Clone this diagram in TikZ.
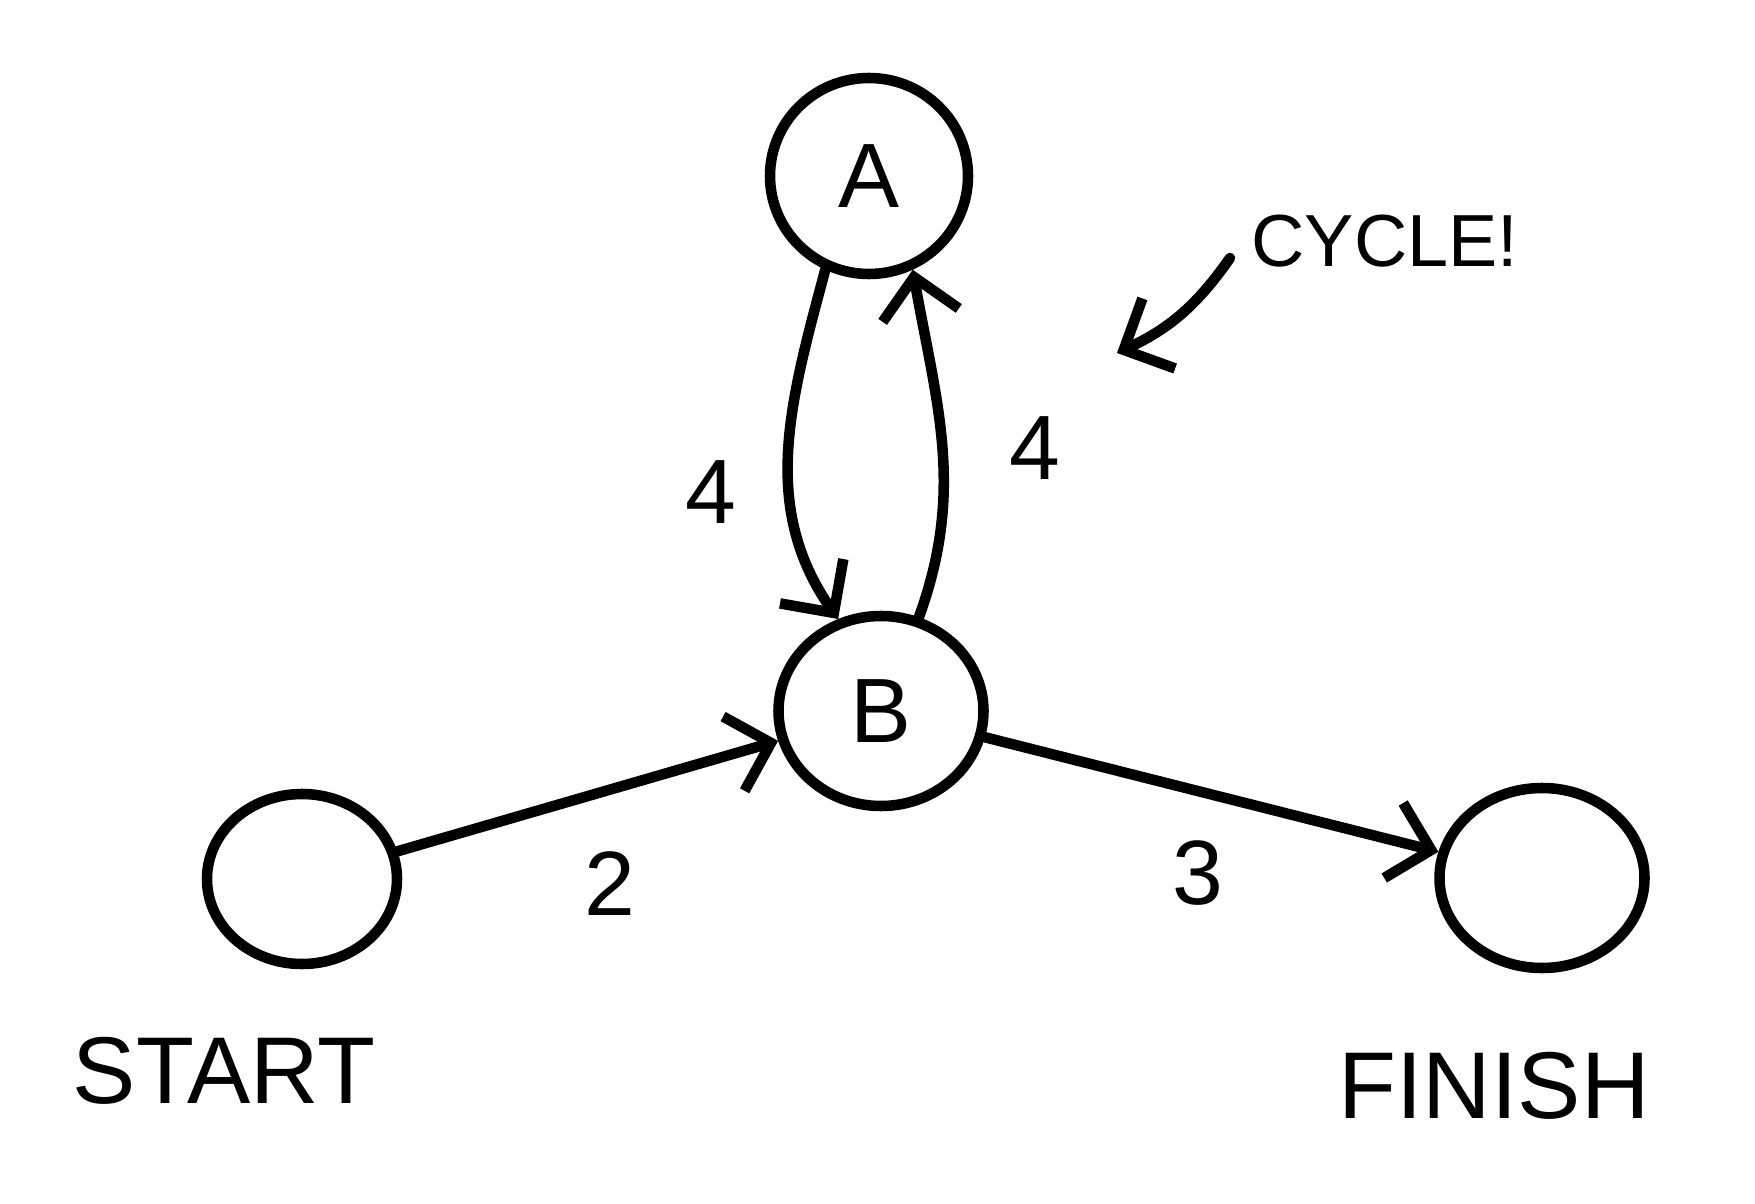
\documentclass[tikz,border=0pt]{standalone}
\usepackage{fontspec}
\setmainfont{Liberation Sans}
\usetikzlibrary{arrows.meta,shapes.geometric}

\begin{document}
\begin{tikzpicture}[line width=3pt, line cap=round,
  >={Straight Barb[length=11pt,width=22pt,line width=3pt]},
  vertex/.style={ellipse, draw, inner sep=0pt, font=\fontsize{26}{30}\selectfont},
  weight/.style={font=\fontsize{26}{30}\selectfont},
  tag/.style={font=\fontsize{27}{32}\selectfont}]
\useasboundingbox (0,0) rectangle (17.55,12.03);
\node[vertex, minimum width=1.98cm, minimum height=1.96cm] (a) at (8.69, 10.27) {A};
\node[vertex, minimum width=2.05cm, minimum height=1.90cm] (b) at (8.81, 4.92) {B};
\node[vertex, minimum width=1.90cm, minimum height=1.70cm] (start) at (3.02, 3.24) {};
\node[vertex, minimum width=2.05cm, minimum height=1.80cm] (finish) at (15.42, 3.25) {};
\node[tag] (startlbl) at (2.24, 1.32) {START};
\node[tag] (finishlbl) at (14.94, 1.17) {FINISH};
\node[font=\fontsize{21}{25}\selectfont] (cycle) at (13.85, 9.62) {CYCLE!};
\coordinate (cyclefrom) at (12.30, 9.45);
\coordinate (cycleto) at (11.17, 8.50);
\node[weight] (w1) at (7.11, 7.11) {4};
\node[weight] (w2) at (10.35, 7.55) {4};
\node[weight] (w3) at (6.10, 3.19) {2};
\node[weight] (w4) at (11.98, 3.30) {3};

\draw [->] (a.245) to[out=255, in=125] (b.115);
\draw [->] (b.68) to[out=70, in=280] (a.295);
\draw [->] (start) -- (b);
\draw [->] (b) -- (finish);
\draw [->] (cyclefrom) to[bend left=15] (cycleto);
\end{tikzpicture}
\end{document}
